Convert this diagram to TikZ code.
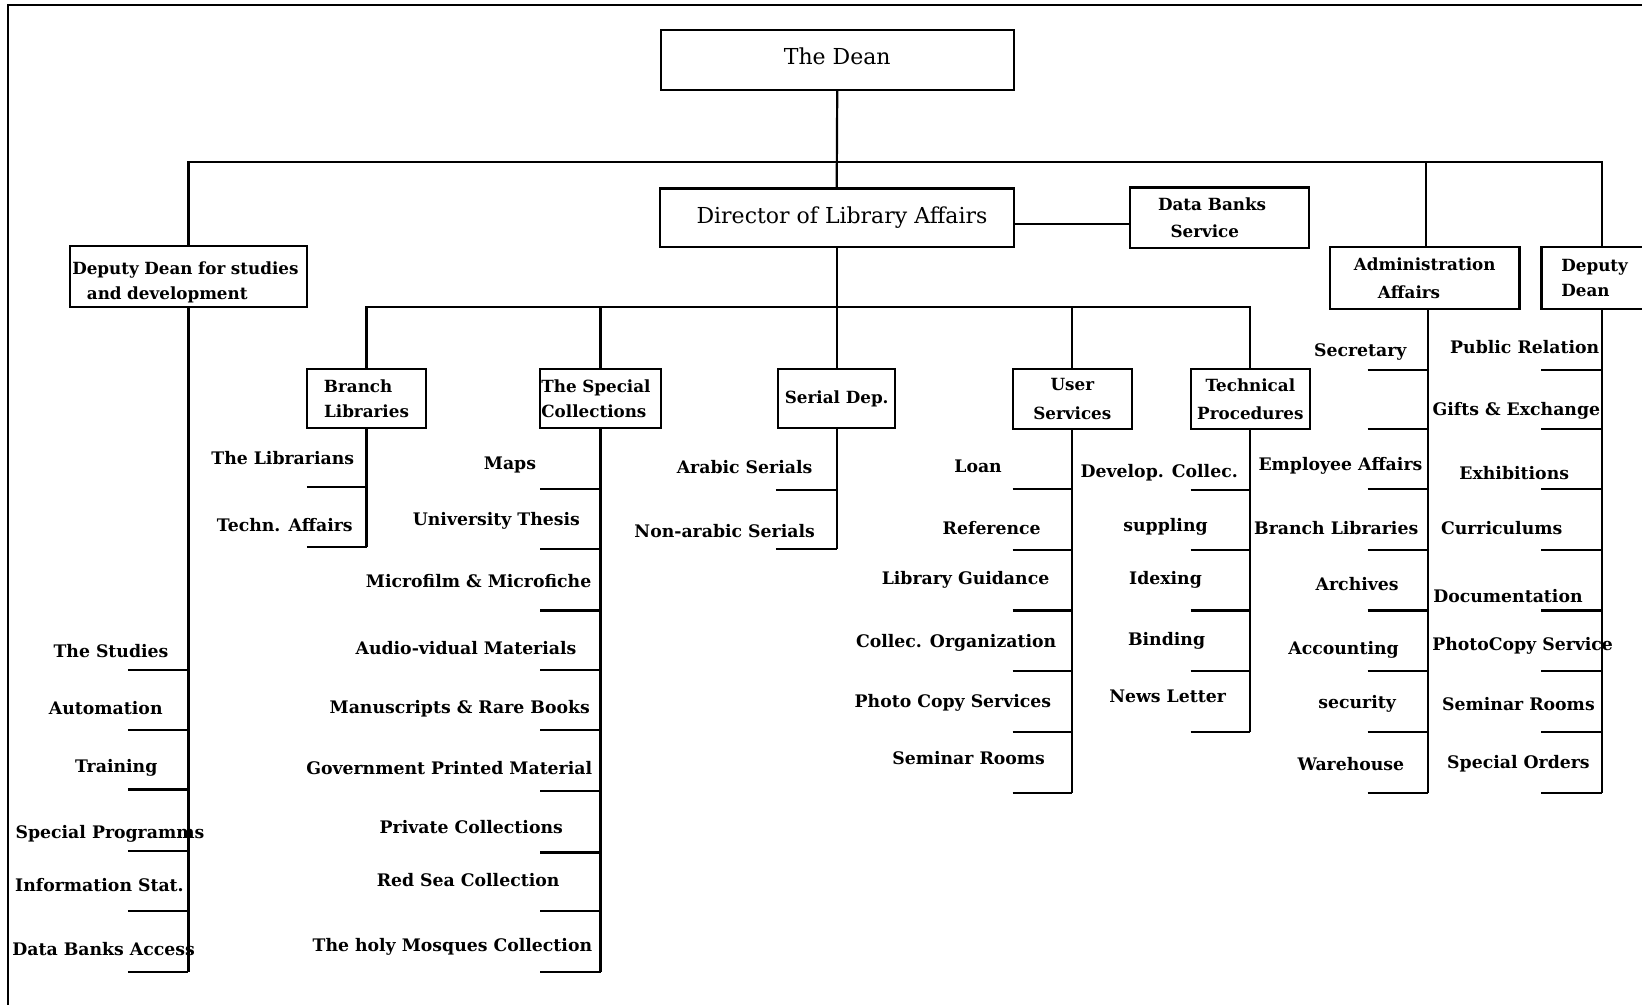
\documentclass[tikz,border=0pt]{standalone}
\usepackage{fontspec}
\setmainfont{DejaVu Serif}
\begin{document}
\begin{tikzpicture}[x=1pt,y=-1pt,
  lbl/.style={font=\bfseries\fontsize{16.5}{18}\selectfont, inner sep=0pt},
  box/.style={draw, line width=2.1pt, inner sep=1pt, align=center, font=\bfseries\fontsize{16}{24}\selectfont},
  bigbox/.style={draw, line width=2.1pt, inner sep=1pt, align=center, font=\fontsize{21}{24}\selectfont},
  ln/.style={line width=2.1pt},
  frame/.style={line width=2.1pt}
]
\useasboundingbox (0,0) rectangle (1568,960);
\fill[white] (0,0) rectangle (1568,960);
% outer frame (top and left edges)
\coordinate (fTR) at (1568,5);
\coordinate (fTL) at (8,5);
\coordinate (fBL) at (8,960);
\draw[frame] (fTR) -- (fTL) -- (fBL);

% top level boxes
\node[bigbox, minimum width=337pt, minimum height=57pt] (dean) at (799.5,57.5) {\raisebox{7pt}{The Dean}};
\node[bigbox, minimum width=338pt, minimum height=56pt] (dir) at (799,208) {\hspace*{10pt}Director of Library Affairs};
\node[box, minimum width=171pt, minimum height=58pt] (dbs) at (1164.5,208) {\raisebox{4pt}{Data Banks}\hspace*{14pt}\\[-2pt]Service\hspace*{28pt}};
\node[box, minimum width=226pt, minimum height=58pt, align=left, text width=222pt] (dds) at (180,264) {\rule{0pt}{24pt}Deputy Dean for studies\\\hspace*{14pt}and development};
\node[box, minimum width=181pt, minimum height=59pt] (adm) at (1360.5,265.5) {\raisebox{3pt}{Administration}\\Affairs\hspace*{30pt}};
\node[box, minimum width=128pt, minimum height=59pt, align=left, text width=118pt] (dd) at (1536,265.5) {\hspace*{14pt}Deputy\\\hspace*{14pt}Dean};

% second level boxes
\node[box, minimum width=114pt, minimum height=57pt] (br) at (350,380.5) {Branch\hspace*{16pt}\\Libraries};
\node[box, minimum width=115pt, minimum height=57pt, align=left, text width=113pt, inner sep=0pt] (sc) at (573.5,380.5) {The Special\\Collections};
\node[box, minimum width=112pt, minimum height=57pt] (ser) at (799,380.5) {Serial Dep.};
\node[box, minimum width=114pt, minimum height=58pt] (us) at (1024,381) {\raisebox{3pt}{User}\\Services};
\node[box, minimum width=114pt, minimum height=58pt] (tp) at (1194,381) {\raisebox{3pt}{Technical}\\Procedures};

% connectors of the top level
\coordinate (busy) at (0,155);
\coordinate (suby) at (0,293);
\coordinate (ddx) at (1530,0);
\coordinate (admx) at (1362,0);
\draw[ln] (dean.south) -- (dir.north);
\draw[ln] (dds.north) -- (dds.north |- busy) -- (ddx |- busy) -- (ddx |- dd.north);
\draw[ln] (admx |- busy) -- (admx |- adm.north);
\draw[ln] ([yshift=-6pt]dir.east) -- ([yshift=-6pt]dbs.west);
\draw[ln] (dir.south) -- (dir.south |- suby);
\draw[ln] (br.north) -- (br.north |- suby) -- (tp.north |- suby) -- (tp.north);
\draw[ln] (sc.north |- suby) -- (sc.north);
\draw[ln] (ser.north |- suby) -- (ser.north);
\draw[ln] (us.north |- suby) -- (us.north);

% Deputy Dean for studies and development
\foreach \t/\x/\y/\l [count=\i] in {The Studies/106/622/640, Automation/101/676/697, Training/111/733/754, Special Programms/105/796/813, Information Stat./95/845/870, Data Banks Access/99/906/928}{
  \node[lbl] (ds\i) at (\x,\y) {\t};
  \coordinate (dsl\i) at (122,\l);
  \draw[ln] (dsl\i) -- (dsl\i -| dds.south);
}
\draw[ln] (dds.south) -- (dds.south |- dsl6);

% Branch Libraries
\foreach \t/\x/\y/\l [count=\i] in {The Librarians/270/437/465, Techn. Affairs/272/501/522}{
  \node[lbl] (bl\i) at (\x,\y) {\t};
  \coordinate (bll\i) at (293,\l);
  \draw[ln] (bll\i) -- (bll\i -| br.south);
}
\draw[ln] (br.south) -- (br.south |- bll2);

% The Special Collections
\foreach \t/\x/\y/\l [count=\i] in {Maps/487/444/467, University Thesis/474/497/524, Microfilm \& Microfiche/457/555/583, Audio-vidual Materials/445/619/640, Manuscripts \& Rare Books/439/677/697, Government Printed Material/429/733/755, Private Collections/450/790/814, Red Sea Collection/447/840/870, The holy Mosques Collection/432/904/928}{
  \node[lbl] (sp\i) at (\x,\y) {\t};
  \coordinate (spl\i) at (516,\l);
  \draw[ln] (spl\i) -- (spl\i -| sc.south);
}
\draw[ln] (sc.south) -- (sc.south |- spl9);

% Serial Dep.
\foreach \t/\x/\y/\l [count=\i] in {Arabic Serials/711/446/468, Non-arabic Serials/692/507/524}{
  \node[lbl] (sr\i) at (\x,\y) {\t};
  \coordinate (srl\i) at (741,\l);
  \draw[ln] (srl\i) -- (srl\i -| ser.south);
}
\draw[ln] (ser.south) -- (ser.south |- srl2);

% User Services
\foreach \t/\x/\y/\l [count=\i] in {Loan/934/445/467, Reference/947/504/525, Library Guidance/922/554/583, Collec. Organization/913/614/641, Photo Copy Services/910/671/699, Seminar Rooms/925/724/757}{
  \node[lbl] (u\i) at (\x,\y) {\t};
  \coordinate (ul\i) at (967,\l);
  \draw[ln] (ul\i) -- (ul\i -| us.south);
}
\draw[ln] (us.south) -- (us.south |- ul6);

% Technical Procedures
\foreach \t/\x/\y/\l [count=\i] in {Develop. Collec./1107/451/468, suppling/1113/503/525, Idexing/1113/554/583, Binding/1114/612/641, News Letter/1115/665/699}{
  \node[lbl] (t\i) at (\x,\y) {\t};
  \coordinate (tl\i) at (1137,\l);
  \draw[ln] (tl\i) -- (tl\i -| tp.south);
}
\draw[ln] (tp.south) -- (tp.south |- tl5);

% Administration Affairs
\coordinate (admt) at (1364,0);
\foreach \t/\x/\y/\l [count=\i] in {Secretary/1299/336/353, Employee Affairs/1280/445/467, Branch Libraries/1276/504/525, Archives/1296/558/583, Accounting/1283/621/641, security/1296/672/699, Warehouse/1290/730/757}{
  \node[lbl] (a\i) at (\x,\y) {\t};
  \coordinate (al\i) at (1306,\l);
  \draw[ln] (al\i) -- (al\i -| admt);
}
\coordinate (alx) at (1306,410);
\draw[ln] (alx) -- (alx -| admt);
\draw[ln] (admt |- adm.south) -- (admt |- al7);

% Deputy Dean
\foreach \t/\x/\y/\l [count=\i] in {Public Relation/1456/331/353, Gifts \& Exchange/1448/392/410, Exhibitions/1446/452/467, Curriculums/1434/504/525, Documentation/1440/569/583, PhotoCopy Service/1454/617/641, Seminar Rooms/1450/672/699, Special Orders/1450/729/757}{
  \node[lbl] (d\i) at (\x,\y) {\t};
  \coordinate (dl\i) at (1472,\l);
  \draw[ln] (dl\i) -- (dl\i -| ddx);
}
\draw[ln] (ddx |- dd.south) -- (ddx |- dl8);
\end{tikzpicture}
\end{document}
